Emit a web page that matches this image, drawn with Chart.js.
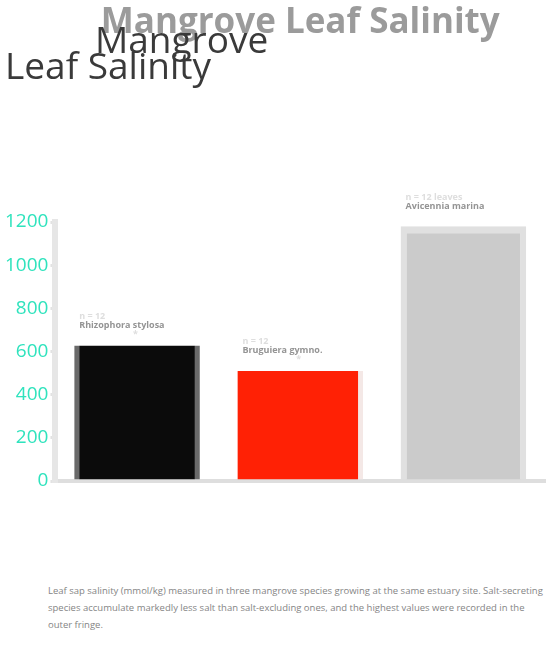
<!DOCTYPE html>
<html>
<head>
<meta charset="utf-8">
<script src="https://cdn.jsdelivr.net/npm/chart.js@4.4.0/dist/chart.umd.min.js"></script>
<style>
  body { margin: 0; background: #fff; font-family: "Open Sans", sans-serif; }
  #wrap { position: relative; width: 555px; height: 672px; }
  #box { position: absolute; left: 0; top: 0; width: 555px; height: 499px; }
  .over { position: absolute; color: #3a3a3a; font-size: 37px; line-height: 1; white-space: nowrap; }
  #note { position: absolute; left: 48px; top: 582px; width: 500px; margin: 0;
          font-size: 9.5px; line-height: 17px; color: #858585; }
</style>
</head>
<body>
<div id="wrap">
  <div id="box"><canvas id="leafChart"></canvas></div>
  <div class="over" style="left:95px; top:20px;">Mangrove</div>
  <div class="over" style="left:5px; top:46px;">Leaf Salinity</div>
  <p id="note">Leaf sap salinity (mmol/kg) measured in three mangrove species growing at the same estuary site. Salt-secreting species accumulate markedly less salt than salt-excluding ones, and the highest values were recorded in the outer fringe.</p>
</div>

<script>
// chart data
const species = ["Rhizophora", "Bruguiera", "Avicennia"];
const salinity = [628, 510, 1180];
const barLabels = [["n = 12", "Rhizophora stylosa", "*"], ["n = 12", "Bruguiera gymno.", "*"], ["n = 12 leaves", "Avicennia marina"]];
const yTicks = [0, 200, 400, 600, 800, 1000, 1200];

const fillColors = ["#0b0b0b", "#ff2105", "#cbcbcb"];
const edgeColors = ["#6a6a6a", "#f4e8e6", "#e0e0e0"];
const edgeWidths = [
  { left: 5, right: 5, top: 0, bottom: 0 },
  { left: 0, right: 5, top: 0, bottom: 0 },
  { left: 6, right: 6, top: 7, bottom: 0 }
];

// small grey text above each bar
const labelPlugin = {
  id: "barText",
  afterDatasetsDraw(chart) {
    let ctx = chart.ctx;
    let meta = chart.getDatasetMeta(0);
    ctx.save();
    ctx.font = "bold 9px 'Open Sans'";
    ctx.textAlign = "left";
    ctx.textBaseline = "middle";
    meta.data.forEach((bar, i) => {
      let lines = barLabels[i];
      let left = bar.x - bar.width / 2;
      lines.forEach((txt, k) => {
        ctx.fillStyle = k == 1 ? "#949494" : "#dedede";
        let x = k == 2 ? bar.x - 4 : left + 5;
        ctx.fillText(txt, x, bar.y - 29 + k * 9);
      });
    });
    ctx.restore();
  }
};

let ctx = document.getElementById("leafChart").getContext("2d");

window.leafChart = new Chart(ctx, {
  type: "bar",
  data: {
    labels: species,
    datasets: [{
      label: "Leaf salinity",
      data: salinity,
      backgroundColor: fillColors,
      borderColor: edgeColors,
      borderWidth: edgeWidths,
      borderSkipped: false,
      barPercentage: 1.0,
      categoryPercentage: 0.77
    }]
  },
  options: {
    responsive: true,
    maintainAspectRatio: false,
    animation: false,
    layout: { padding: { left: 3, right: 10, top: 0, bottom: 10 } },
    plugins: {
      legend: { display: false },
      tooltip: { enabled: false },
      title: {
        display: true,
        fullSize: false,
        text: "Mangrove Leaf Salinity",
        color: "#9b9b9b",
        font: { family: "Open Sans", size: 35, weight: "bold" },
        padding: { top: 2, bottom: 178 }
      }
    },
    scales: {
      x: {
        ticks: { display: false },
        grid: { display: false },
        border: { color: "#dedede", width: 4 }
      },
      y: {
        min: 0,
        max: 1200,
        afterBuildTicks: axis => { axis.ticks = yTicks.map(v => ({ value: v })); },
        ticks: {
          color: "#2fe3bd",
          font: { family: "Open Sans", size: 19 },
          padding: 2,
          callback: v => String(v)
        },
        grid: { drawOnChartArea: false, tickLength: 5, color: "#e2e2e2", lineWidth: 3 },
        border: { color: "#e6e6e6", width: 6 }
      }
    }
  },
  plugins: [labelPlugin]
});
</script>
</body>
</html>
